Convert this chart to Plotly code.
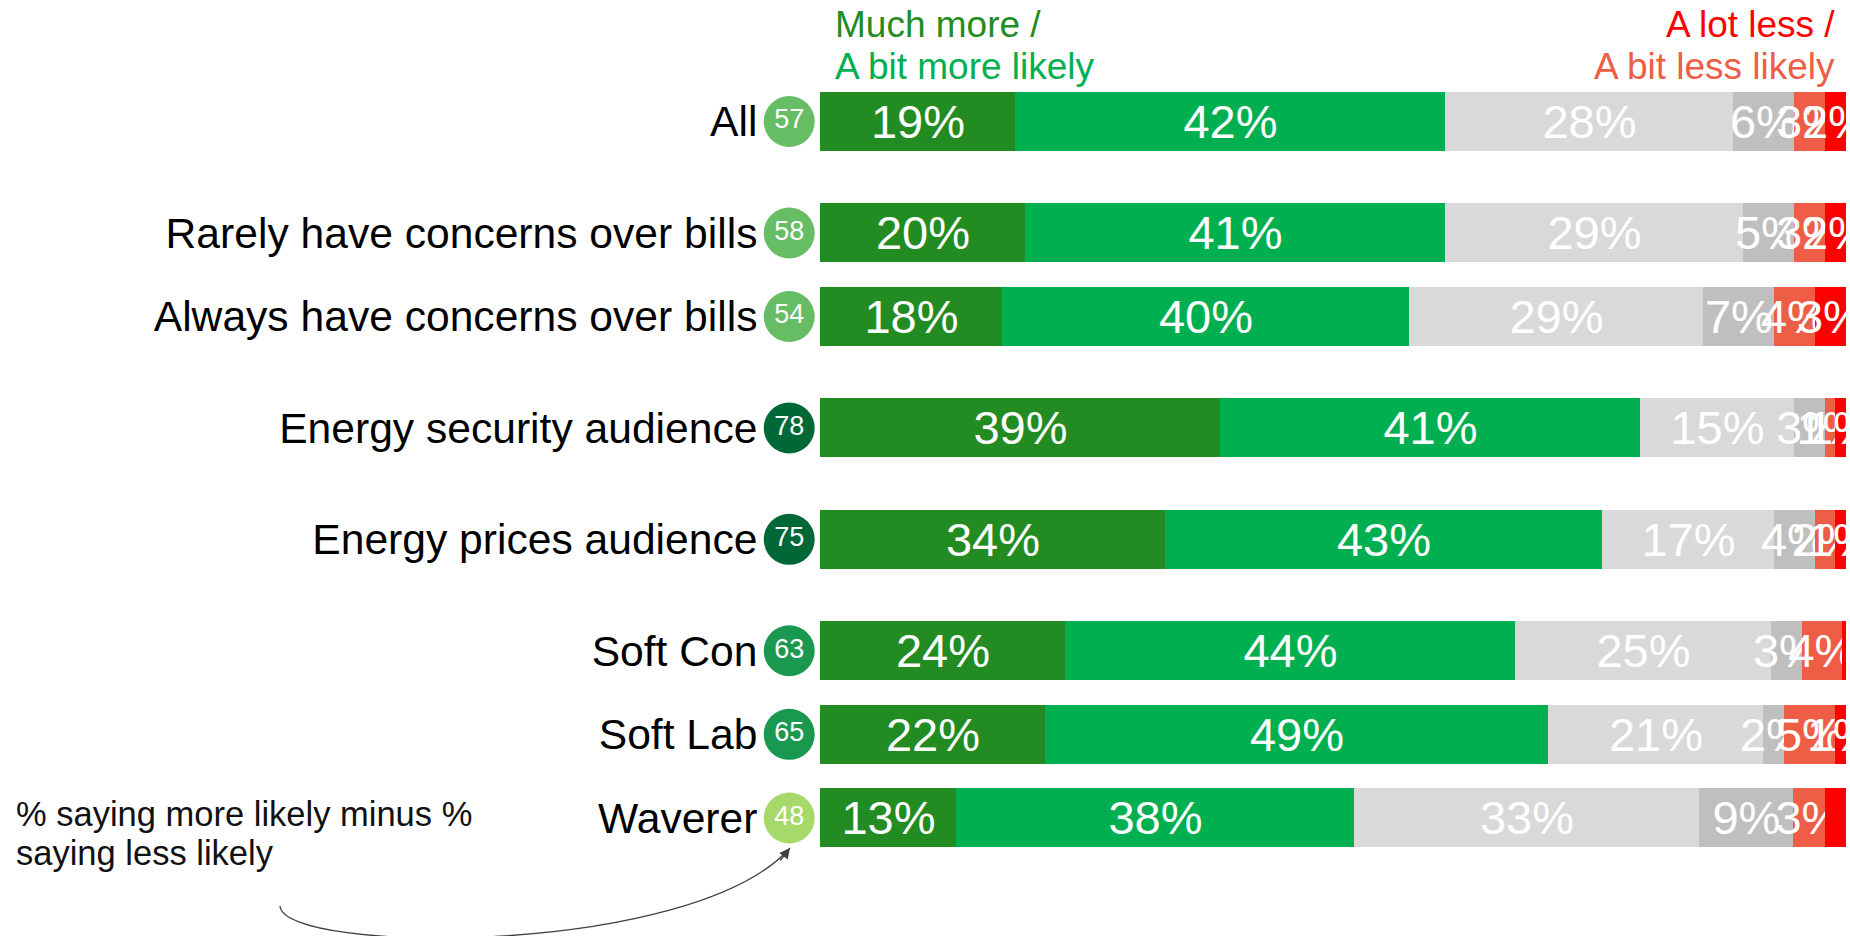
import plotly.graph_objects as go

# ---------------- data ----------------
categories = ["All", "Rarely have concerns over bills", "Always have concerns over bills",
              "Energy security audience", "Energy prices audience",
              "Soft Con", "Soft Lab", "Waverer"]
group_sizes = [1, 2, 1, 1, 3]          # categories per visual group
much_more = [19, 20, 18, 39, 34, 24, 22, 13]
bit_more = [42, 41, 40, 41, 43, 44, 49, 38]
neither = [28, 29, 29, 15, 17, 25, 21, 33]
dont_know = [6, 5, 7, 3, 4, 3, 2, 9]
bit_less = [3, 3, 4, 1, 2, 4, 5, 3]
lot_less = [2, 2, 3, 1, 1, 0.3, 1, 2]
net_score = [57, 58, 54, 78, 75, 63, 65, 48]

series = [
    ("Much more likely", much_more, "#228B22"),
    ("A bit more likely", bit_more, "#00B050"),
    ("Neither", neither, "#D9D9D9"),
    ("Don't know", dont_know, "#BFBFBF"),
    ("A bit less likely", bit_less, "#EE5D45"),
    ("A lot less likely", lot_less, "#FF0000"),
]

# ---------------- layout constants ----------------
W, H = 1850, 936
FONT = "Liberation Sans, Arial, sans-serif"
GROUP_GAP = 1 / 3
X_MIN = -6          # room left of the bars for the score circles (in % units)
CIRCLE_X = -3       # circle column (in % units)
BAR_LEFT, BAR_RIGHT = 820, 1846
PX_PER_PCT = (BAR_RIGHT - BAR_LEFT) / 100


def net_colour(v):
    if v >= 70:
        return "#006837"
    if v >= 60:
        return "#1A9850"
    if v >= 50:
        return "#66BD63"
    return "#A6D96A"


ypos = []
p = 0.0
for n in group_sizes:
    for _ in range(n):
        ypos.append(p)
        p += 1
    p += GROUP_GAP

fig = go.Figure()
for name, vals, col in series:
    fig.add_trace(go.Bar(
        name=name, y=ypos, x=vals, orientation="h",
        marker=dict(color=col, line=dict(width=0)),
        width=0.706,
        text=[f"{round(v)}%" for v in vals],
        textposition="inside", insidetextanchor="middle",
        constraintext="none", textangle=0,
        textfont=dict(family=FONT, size=47, color="white"),
        cliponaxis=False, hoverinfo="skip",
    ))

fig.add_trace(go.Scatter(
    x=[CIRCLE_X] * len(ypos), y=ypos, mode="markers+text",
    marker=dict(size=51, color=[net_colour(v) for v in net_score], line=dict(width=0)),
    text=[str(v) for v in net_score], textposition="middle center",
    textfont=dict(family=FONT, size=27, color="white"),
    cliponaxis=False, hoverinfo="skip", showlegend=False,
))


def px(x, y):
    return x / W, 1 - y / H


# curved arrow
pts = [(280, 906), (283, 954), (692, 958), (790, 848)]
pp = [px(*q) for q in pts]
path = "M {} {} C {} {}, {} {}, {} {}".format(
    pp[0][0], pp[0][1], pp[1][0], pp[1][1], pp[2][0], pp[2][1], pp[3][0], pp[3][1])

annotations = []


def add_text(txt, x, y, anchor, size, color):
    xx, yy = px(x, y)
    annotations.append(dict(text=txt, x=xx, y=yy, xref="paper", yref="paper",
                            xanchor=anchor, yanchor="middle", showarrow=False,
                            font=dict(family=FONT, size=size, color=color)))


add_text("Much more /", 833, 24, "left", 37, "#228B22")
add_text("A bit more likely", 833, 67, "left", 37, "#00B050")
add_text("A lot less /", 1837, 24, "right", 37, "#FF0000")
add_text("A bit less likely", 1837, 67, "right", 37, "#EE5D45")
add_text("% saying more likely minus %", 14, 814, "left", 34.5, "#111111")
add_text("saying less likely", 14, 853, "left", 34.5, "#111111")

tx, ty = px(790, 848)
annotations.append(dict(text="", x=tx, y=ty, xref="paper", yref="paper",
                        showarrow=True, ax=-11, ay=14, arrowhead=2, arrowsize=1.5,
                        arrowwidth=1.4, arrowcolor="#404040", standoff=0))

x_dom0 = BAR_LEFT + X_MIN * PX_PER_PCT

fig.update_layout(
    width=W, height=H, autosize=False,
    margin=dict(l=0, r=0, t=0, b=0),
    paper_bgcolor="white", plot_bgcolor="white",
    barmode="stack", barnorm="percent", bargap=0,
    showlegend=False, hovermode=False,
    font=dict(family=FONT),
    xaxis=dict(domain=[x_dom0 / W, BAR_RIGHT / W], range=[X_MIN, 100],
               visible=False, fixedrange=True),
    yaxis=dict(domain=[0, 1], range=[9.746, -1.454], tickvals=ypos, ticktext=categories,
               showgrid=False, zeroline=False, showline=False, ticks="",
               ticklabelstandoff=0,
               tickfont=dict(family=FONT, size=42.6, color="black"), fixedrange=True),
    shapes=[dict(type="path", path=path, xref="paper", yref="paper",
                 line=dict(color="#404040", width=1.3))],
    annotations=annotations,
)

fig.write_html("out.html", config={"displayModeBar": False},
               post_script="document.body.style.margin='0px';")
